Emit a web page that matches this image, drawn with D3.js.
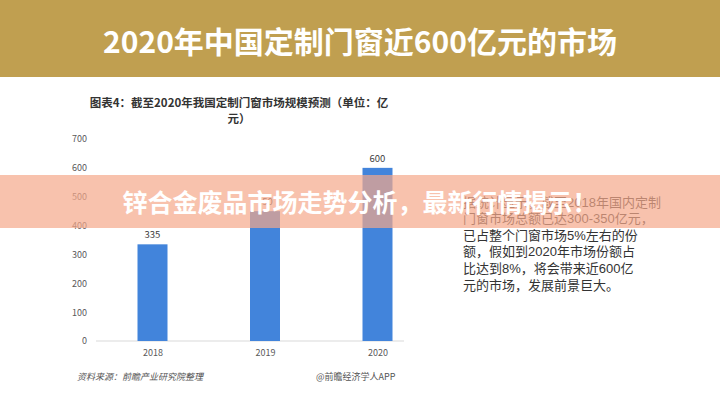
<!DOCTYPE html>
<html><head><meta charset="utf-8">
<script src="https://cdn.jsdelivr.net/npm/d3@7"></script>
<style>html,body{margin:0;padding:0;background:#fff;overflow:hidden}svg{display:block}</style>
</head><body>
<script>
const years = ["2018", "2019", "2020"];
const values = [335, 450, 600];
const yTicks = [0, 100, 200, 300, 400, 500, 600, 700];
const headline = "2020年中国定制门窗近600亿元的市场";
const chartTitle = ["图表4：截至2020年我国定制门窗市场规模预测（单位：亿", "元）"];
const bannerText = "锌合金废品市场走势分析，最新行情揭示！";
const paragraph = ["据统计显示，截至2018年国内定制", "门窗市场总额已达300-350亿元，", "已占整个门窗市场5%左右的份", "额，假如到2020年市场份额占", "比达到8%，将会带来近600亿", "元的市场，发展前景巨大。"];
const sourceText = "资料来源：前瞻产业研究院整理";
const creditText = "@前瞻经济学人APP";

const W = 720, H = 405;
const font = "'Noto Sans CJK SC','Noto Sans',sans-serif";
const paraFont = "'Liberation Sans','Noto Sans CJK SC',sans-serif";
const svg = d3.select("body").append("svg").attr("width", W).attr("height", H).style("font-family", font);

// top band
svg.append("rect").attr("x", 0).attr("y", 0).attr("width", W).attr("height", 77).attr("fill", "#C09F50");
svg.append("text").attr("x", 360).attr("y", 40).attr("text-anchor", "middle").attr("dominant-baseline", "central")
  .attr("fill", "#fff").attr("font-size", 30).attr("font-weight", 700).text(headline);

// chart title
chartTitle.forEach((t, i) => {
  svg.append("text").attr("x", 239).attr("y", 102 + i * 16).attr("text-anchor", "middle").attr("dominant-baseline", "central")
    .attr("fill", "#333").attr("font-size", 11.5).attr("font-weight", 700).text(t);
});

const x = d3.scalePoint().domain(years).range([152.5, 377.5]);
const y = d3.scaleLinear().domain([0, 700]).range([341, 139]);
const barW = 30;

// y axis
const ya = svg.append("g").attr("transform", "translate(90,0)")
  .call(d3.axisLeft(y).tickValues(yTicks).tickSize(0).tickPadding(3));
ya.select(".domain").remove();
ya.selectAll("text").attr("fill", "#595959").attr("font-size", 9).style("font-family", font);

// baseline
svg.append("line").attr("x1", 96).attr("x2", 404).attr("y1", y(0)).attr("y2", y(0)).attr("stroke", "#d9d9d9").attr("stroke-width", 1);

// bars
svg.selectAll("rect.bar").data(values).enter().append("rect").attr("class", "bar")
  .attr("x", (d, i) => x(years[i]) - barW / 2).attr("width", barW)
  .attr("y", d => y(d)).attr("height", d => y(0) - y(d)).attr("fill", "#4284DB");

svg.selectAll("text.lbl").data(values).enter().append("text").attr("class", "lbl")
  .attr("x", (d, i) => x(years[i])).attr("y", d => y(d) - 10).attr("text-anchor", "middle").attr("dominant-baseline", "central")
  .attr("fill", "#404040").attr("font-size", 9.5).text(d => d);

// x axis
const xa = svg.append("g").attr("transform", `translate(0,${y(0)})`)
  .call(d3.axisBottom(x).tickSize(0).tickPadding(9));
xa.select(".domain").remove();
xa.selectAll("text").attr("fill", "#595959").attr("font-size", 9).style("font-family", font);

// paragraph
paragraph.forEach((t, i) => {
  svg.append("text").attr("x", 463).attr("y", 202 + i * 16.6).attr("dominant-baseline", "central")
    .attr("fill", "#333").attr("font-size", 13).style("font-family", paraFont).text(t);
});

// footer
svg.append("text").attr("x", 77).attr("y", 376).attr("dominant-baseline", "central").attr("fill", "#555")
  .attr("font-size", 9).attr("font-style", "italic").text(sourceText);
svg.append("text").attr("x", 316).attr("y", 376).attr("dominant-baseline", "central").attr("fill", "#555")
  .attr("font-size", 9).text(creditText);

// banner overlay
svg.append("rect").attr("x", 0).attr("y", 175).attr("width", W).attr("height", 53).attr("fill", "rgba(245,168,138,0.7)");
svg.append("text").attr("x", 360).attr("y", 201).attr("text-anchor", "middle").attr("dominant-baseline", "central")
  .attr("fill", "#fff").attr("font-size", 25).attr("font-weight", 700).text(bannerText);
</script>
</body></html>
